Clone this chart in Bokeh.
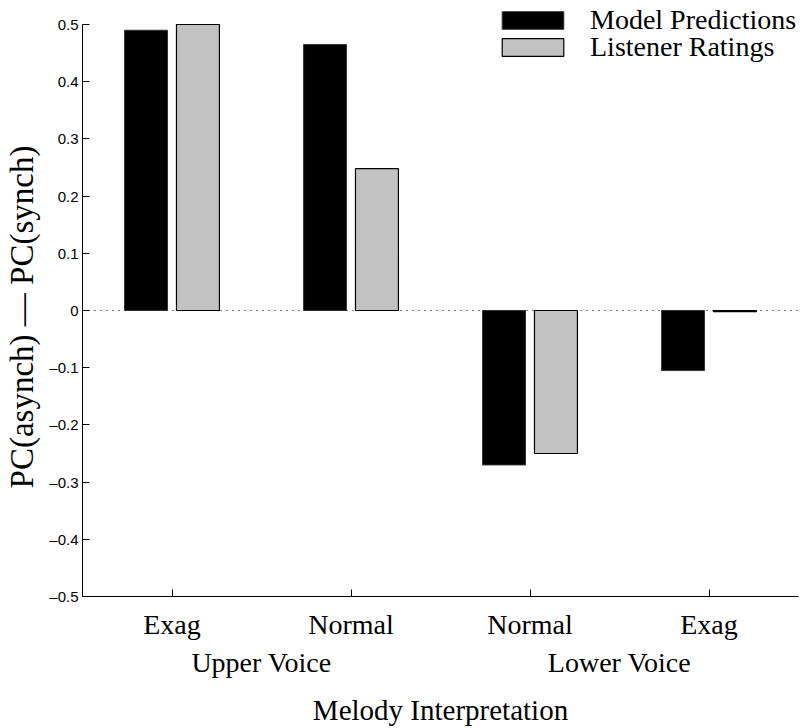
from bokeh.plotting import figure
from bokeh.models import (ColumnDataSource, FactorRange, Range1d, Span, Legend,
                          LegendItem, FixedTicker, CustomJSTickFormatter, CategoricalAxis)
from bokeh.transform import dodge
from bokeh.embed import file_html
from bokeh.resources import INLINE

voices = ["Upper Voice", "Upper Voice", "Lower Voice", "Lower Voice"]
interpretations = ["Exag", "Normal", "Normal", "Exag"]
voice_groups = ["Upper Voice", "Lower Voice"]
model_predictions = [0.49, 0.465, -0.27, -0.105]
listener_ratings = [0.50, 0.248, -0.25, -0.002]
y_ticks = [-0.5, -0.4, -0.3, -0.2, -0.1, 0.0, 0.1, 0.2, 0.3, 0.4, 0.5]

factors = list(zip(voices, interpretations))
src = ColumnDataSource(dict(x=factors, model=model_predictions, listener=listener_ratings))

SERIF = "Liberation Serif"
SANS = "Liberation Sans"

x_range = FactorRange(*factors, factor_padding=0, group_padding=0, range_padding=0)

p = figure(width=810, height=728, x_range=x_range, y_range=Range1d(-0.5, 0.535),
           output_backend="svg", toolbar_location=None,
           min_border_left=82, min_border_right=12, min_border_top=4, min_border_bottom=132)
p.extra_x_ranges = {"groups": FactorRange(*voice_groups, range_padding=0)}
p.outline_line_color = None
p.xgrid.visible = False
p.ygrid.visible = False
p.background_fill_color = "white"
p.border_fill_color = "white"

zero = Span(location=0, dimension="width", line_color="black", line_width=1,
            line_dash="1 5", level="underlay")
p.add_layout(zero)

r1 = p.vbar(x=dodge("x", -0.145, range=x_range), top="model", bottom=0, width=0.24,
            source=src, fill_color="black", line_color="#333333", line_width=1)
r2 = p.vbar(x=dodge("x", 0.145, range=x_range), top="listener", bottom=0, width=0.24,
            source=src, fill_color="#c2c2c2", line_color="black", line_width=1.2)

# main x axis: interpretation labels only
xa = p.xaxis[0]
xa.axis_line_color = "black"
xa.major_tick_line_color = "black"
xa.major_tick_in = 7
xa.major_tick_out = 0
xa.major_label_text_font = SERIF
xa.major_label_text_font_size = "28px"
xa.major_label_text_color = "black"
xa.major_label_standoff = 12
xa.group_text_color = None
xa.separator_line_alpha = 0

# second x axis: voice groups + axis title
ga = CategoricalAxis(x_range_name="groups")
ga.axis_line_color = None
ga.major_tick_line_color = None
ga.minor_tick_line_color = None
ga.major_tick_in = 0
ga.major_tick_out = 0
ga.major_label_text_font = SERIF
ga.major_label_text_font_size = "28px"
ga.major_label_text_color = "black"
ga.major_label_standoff = 4
ga.axis_label = "Melody Interpretation"
ga.axis_label_text_font = SERIF
ga.axis_label_text_font_size = "29px"
ga.axis_label_text_font_style = "normal"
ga.axis_label_text_color = "black"
ga.axis_label_standoff = 13
p.add_layout(ga, "below")

# y axis
ya = p.yaxis[0]
ya.bounds = (-0.5, 0.5)
ya.ticker = FixedTicker(ticks=y_ticks)
ya.formatter = CustomJSTickFormatter(code="""
if (Math.abs(tick) < 1e-9) { return '0'; }
return (tick < 0 ? '\u2013' : '') + Math.abs(tick).toFixed(1);
""")
ya.axis_line_color = "black"
ya.major_tick_line_color = "black"
ya.major_tick_in = 7
ya.major_tick_out = 0
ya.minor_tick_line_color = None
ya.major_label_text_font = SANS
ya.major_label_text_font_size = "15px"
ya.major_label_text_color = "black"
ya.major_label_standoff = 4
ya.axis_label = "PC(asynch) \u2014 PC(synch)\u00a0\u00a0\u00a0\u00a0"
ya.axis_label_text_font = SERIF
ya.axis_label_text_font_size = "33px"
ya.axis_label_text_font_style = "normal"
ya.axis_label_text_color = "black"
ya.axis_label_standoff = 6

legend_style = dict(orientation="vertical", glyph_width=77, glyph_height=22,
                    label_standoff=19, label_text_font=SERIF, label_text_font_size="28px",
                    label_text_color="black", padding=0, margin=0, spacing=0,
                    border_line_color=None, background_fill_alpha=0)
legend1 = Legend(items=[LegendItem(label="Model Predictions", renderers=[r1])],
                 location=(412, 560), **legend_style)
legend2 = Legend(items=[LegendItem(label="Listener Ratings", renderers=[r2])],
                 location=(412, 533), **legend_style)
p.add_layout(legend1)
p.add_layout(legend2)

open("out.html", "w").write(file_html(p, INLINE))
